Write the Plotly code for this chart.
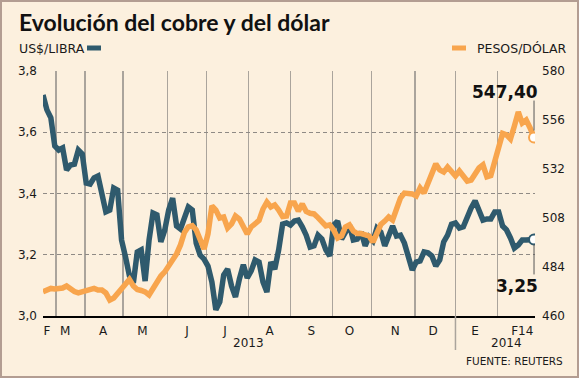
import plotly.graph_objects as go
import pandas as pd

# ---------------- data ----------------
dates = pd.date_range("2013-02-19", periods=126, freq="3D")

copper = [3.722, 3.673, 3.647, 3.555, 3.542, 3.549, 3.477, 3.493, 3.496, 3.542,
          3.529, 3.434, 3.431, 3.451, 3.457, 3.398, 3.340, 3.346, 3.418, 3.411,
          3.248, 3.193, 3.131, 3.108, 3.209, 3.216, 3.114, 3.248, 3.336, 3.330,
          3.242, 3.281, 3.346, 3.385, 3.294, 3.284, 3.317, 3.356, 3.346, 3.238,
          3.199, 3.186, 3.163, 3.111, 3.020, 3.046, 3.134, 3.153, 3.098, 3.062,
          3.121, 3.167, 3.124, 3.147, 3.183, 3.176, 3.111, 3.078, 3.176, 3.153,
          3.216, 3.300, 3.304, 3.297, 3.310, 3.313, 3.291, 3.264, 3.225, 3.229,
          3.264, 3.251, 3.216, 3.196, 3.297, 3.310, 3.251, 3.274, 3.297, 3.248,
          3.251, 3.274, 3.229, 3.258, 3.245, 3.287, 3.274, 3.229, 3.261, 3.294,
          3.261, 3.264, 3.238, 3.199, 3.150, 3.176, 3.180, 3.209, 3.206, 3.196,
          3.163, 3.183, 3.242, 3.264, 3.300, 3.304, 3.287, 3.291, 3.327, 3.353,
          3.376, 3.343, 3.313, 3.317, 3.317, 3.340, 3.340, 3.294, 3.281, 3.255,
          3.222, 3.232, 3.248, 3.248, 3.251, 3.25]

peso = [471.9, 472.7, 473.5, 473.2, 473.2, 473.7, 474.7, 473.0, 472.0, 471.3,
        471.8, 472.7, 473.2, 473.5, 472.7, 472.7, 471.3, 467.8, 468.8, 471.3,
        473.5, 476.2, 477.9, 474.7, 473.0, 472.5, 471.8, 470.3, 473.2, 477.1,
        479.6, 481.6, 484.5, 486.9, 490.4, 494.8, 500.9, 503.7, 504.3, 502.1,
        496.7, 492.8, 500.2, 513.9, 511.9, 508.0, 508.5, 503.1, 505.1, 509.0,
        507.5, 503.1, 500.2, 503.6, 505.6, 506.8, 512.4, 515.8, 513.4, 514.4,
        511.9, 508.7, 509.0, 515.3, 515.3, 511.4, 514.9, 511.2, 510.3, 510.0,
        508.2, 506.5, 504.1, 504.6, 502.1, 498.2, 499.2, 503.6, 504.6, 501.6,
        500.4, 500.4, 499.7, 499.2, 496.2, 501.1, 504.8, 506.5, 508.5, 507.0,
        511.9, 517.8, 520.2, 520.2, 519.8, 518.8, 522.7, 520.2, 524.7, 530.5,
        534.5, 531.5, 530.5, 533.0, 530.8, 528.6, 531.0, 528.8, 526.1, 526.6,
        530.0, 532.5, 534.0, 528.2, 528.8, 535.4, 542.3, 549.4, 548.7, 546.7,
        553.1, 559.9, 554.5, 556.0, 552.1, 547.4]

month_lines = ["2013-03-01", "2013-03-23", "2013-04-21", "2013-05-25", "2013-06-24",
               "2013-07-26", "2013-08-27", "2013-09-28", "2013-10-28", "2013-11-30",
               "2013-12-31", "2014-02-01"]
month_label_dates = ["2013-02-22", "2013-03-08", "2013-04-06", "2013-05-06", "2013-06-09",
                     "2013-07-08", "2013-08-11", "2013-09-12", "2013-10-11", "2013-11-15",
                     "2013-12-14", "2014-01-15", "2014-02-20"]
month_labels = ["F", "M", "A", "M", "J", "J", "A", "S", "O", "N", "D", "E", "F14"]
year_label_dates = ["2013-07-26", "2014-02-08"]
year_labels = ["2013", "2014"]
year_boundary = "2013-12-31"

copper_ticks = [3.0, 3.2, 3.4, 3.6, 3.8]
copper_ticktext = ["3,0", "3,2", "3,4", "3,6", "3,8"]
peso_ticks = [460, 484, 508, 532, 556, 580]

# ---------------- style ----------------
BG = "#FCF0DE"
BLUE = "#2F5A6D"
ORANGE = "#F8A54D"
TXT = "#1a1a1a"
FONT = "DejaVu Sans"
TITLE_FONT = "Lato, Liberation Sans, Arial, sans-serif"

W, H = 579, 378
L, R, T, B = 43, 44, 71, 62
pw = W - L - R
ph = H - T - B


def px(x):
    return (x - L) / pw


def py(y):
    return (H - B - y) / ph


fig = go.Figure()
fig.add_trace(go.Scatter(x=dates, y=copper, mode="lines", yaxis="y",
                         line=dict(color=BLUE, width=5.5), hoverinfo="skip"))
fig.add_trace(go.Scatter(x=dates, y=peso, mode="lines", yaxis="y2",
                         line=dict(color=ORANGE, width=5.5), hoverinfo="skip"))
fig.add_trace(go.Scatter(x=[dates[-1]], y=[copper[-1]], mode="markers", yaxis="y",
                         marker=dict(size=10, color="white", line=dict(color=BLUE, width=2)),
                         hoverinfo="skip"))
fig.add_trace(go.Scatter(x=[dates[-1]], y=[peso[-1]], mode="markers", yaxis="y2",
                         marker=dict(size=10, color="white", line=dict(color=ORANGE, width=2)),
                         hoverinfo="skip"))

fig.update_layout(
    width=W, height=H,
    margin=dict(l=L, r=R, t=T, b=B),
    paper_bgcolor=BG, plot_bgcolor=BG,
    showlegend=False, hovermode=False,
    font=dict(family=FONT, size=12, color=TXT),
    xaxis=dict(
        type="date",
        range=["2013-02-19", "2014-03-01 18:00"],
        tickmode="array", tickvals=month_label_dates, ticktext=month_labels,
        showgrid=False, ticks="", zeroline=False,
        showline=True, linecolor="black", linewidth=2,
        tickfont=dict(family=FONT, size=12, color=TXT),
        ticklabelstandoff=3,
        minor=dict(tickmode="array", tickvals=month_lines, showgrid=True,
                   gridcolor="#aaa49c", gridwidth=1.5, ticks=""),
    ),
    yaxis=dict(
        range=[3.0, 3.8], tickmode="array", tickvals=copper_ticks, ticktext=copper_ticktext,
        showgrid=True, gridcolor="#8f8a85", gridwidth=1, griddash="4px,3px",
        zeroline=False, ticks="", showline=False,
        tickfont=dict(family=FONT, size=12, color=TXT), ticklabelstandoff=5,
    ),
    yaxis2=dict(
        range=[460, 580], overlaying="y", side="right", tickmode="array",
        tickvals=peso_ticks, showgrid=False, zeroline=False, ticks="",
        tickfont=dict(family=FONT, size=12, color=TXT), ticklabelstandoff=6,
    ),
)

annotations = [
    dict(text="<b>Evolución del cobre y del dólar</b>", xref="paper", yref="paper",
         x=px(17), y=py(22), xanchor="left", yanchor="middle", showarrow=False,
         font=dict(family=TITLE_FONT, size=23, color="#111")),
    dict(text="US$/LIBRA", xref="paper", yref="paper", x=px(17), y=py(48),
         xanchor="left", yanchor="middle", showarrow=False, font=dict(size=12.5)),
    dict(text="PESOS/DÓLAR", xref="paper", yref="paper", x=px(569), y=py(48),
         xanchor="right", yanchor="middle", showarrow=False, font=dict(size=12.5)),
    dict(text="FUENTE: REUTERS", xref="paper", yref="paper", x=px(565), y=py(361),
         xanchor="right", yanchor="middle", showarrow=False, font=dict(size=10.5)),
    dict(text="<b>547,40</b>", xref="x", yref="y2", x=dates[-1], y=peso[-1],
         xanchor="right", yanchor="middle", xshift=6, yshift=46, showarrow=False,
         font=dict(size=17, color="#111")),
    dict(text="<b>3,25</b>", xref="x", yref="y", x=dates[-1], y=copper[-1],
         xanchor="right", yanchor="middle", xshift=6, yshift=-47, showarrow=False,
         font=dict(size=17, color="#111")),
]
for d, t in zip(year_label_dates, year_labels):
    annotations.append(dict(text=t, xref="x", yref="paper", x=d, y=py(343),
                            xanchor="center", yanchor="middle", showarrow=False,
                            font=dict(size=12)))
fig.update_layout(annotations=annotations)

shapes = [
    # legend dashes
    dict(type="line", xref="paper", yref="paper", x0=px(87), x1=px(101), y0=py(48), y1=py(48),
         line=dict(color=BLUE, width=5)),
    dict(type="line", xref="paper", yref="paper", x0=px(452), x1=px(466), y0=py(48), y1=py(48),
         line=dict(color=ORANGE, width=5)),
    # connectors to end labels
    dict(type="line", xref="x", yref="y2", x0=dates[-1], x1=dates[-1], ysizemode="pixel",
         yanchor=peso[-1], y0=7, y1=37, line=dict(color="#555", width=1)),
    dict(type="line", xref="x", yref="y", x0=dates[-1], x1=dates[-1], ysizemode="pixel",
         yanchor=copper[-1], y0=-5, y1=-35, line=dict(color="#555", width=1)),
    # year boundary extension
    dict(type="line", xref="x", yref="paper", x0=year_boundary, x1=year_boundary,
         y0=0, y1=py(350), line=dict(color="#aaa49c", width=1.5)),
    # frame
    dict(type="rect", xref="paper", yref="paper", x0=px(1), x1=px(578), y0=py(377), y1=py(1),
         line=dict(color="#b39d92", width=2), fillcolor="rgba(0,0,0,0)"),
]
fig.update_layout(shapes=shapes)

fig.write_html("out.html",
               config={"displayModeBar": False, "staticPlot": True},
               post_script="document.body.style.margin='0px';"
                           "document.body.style.overflow='hidden';")
